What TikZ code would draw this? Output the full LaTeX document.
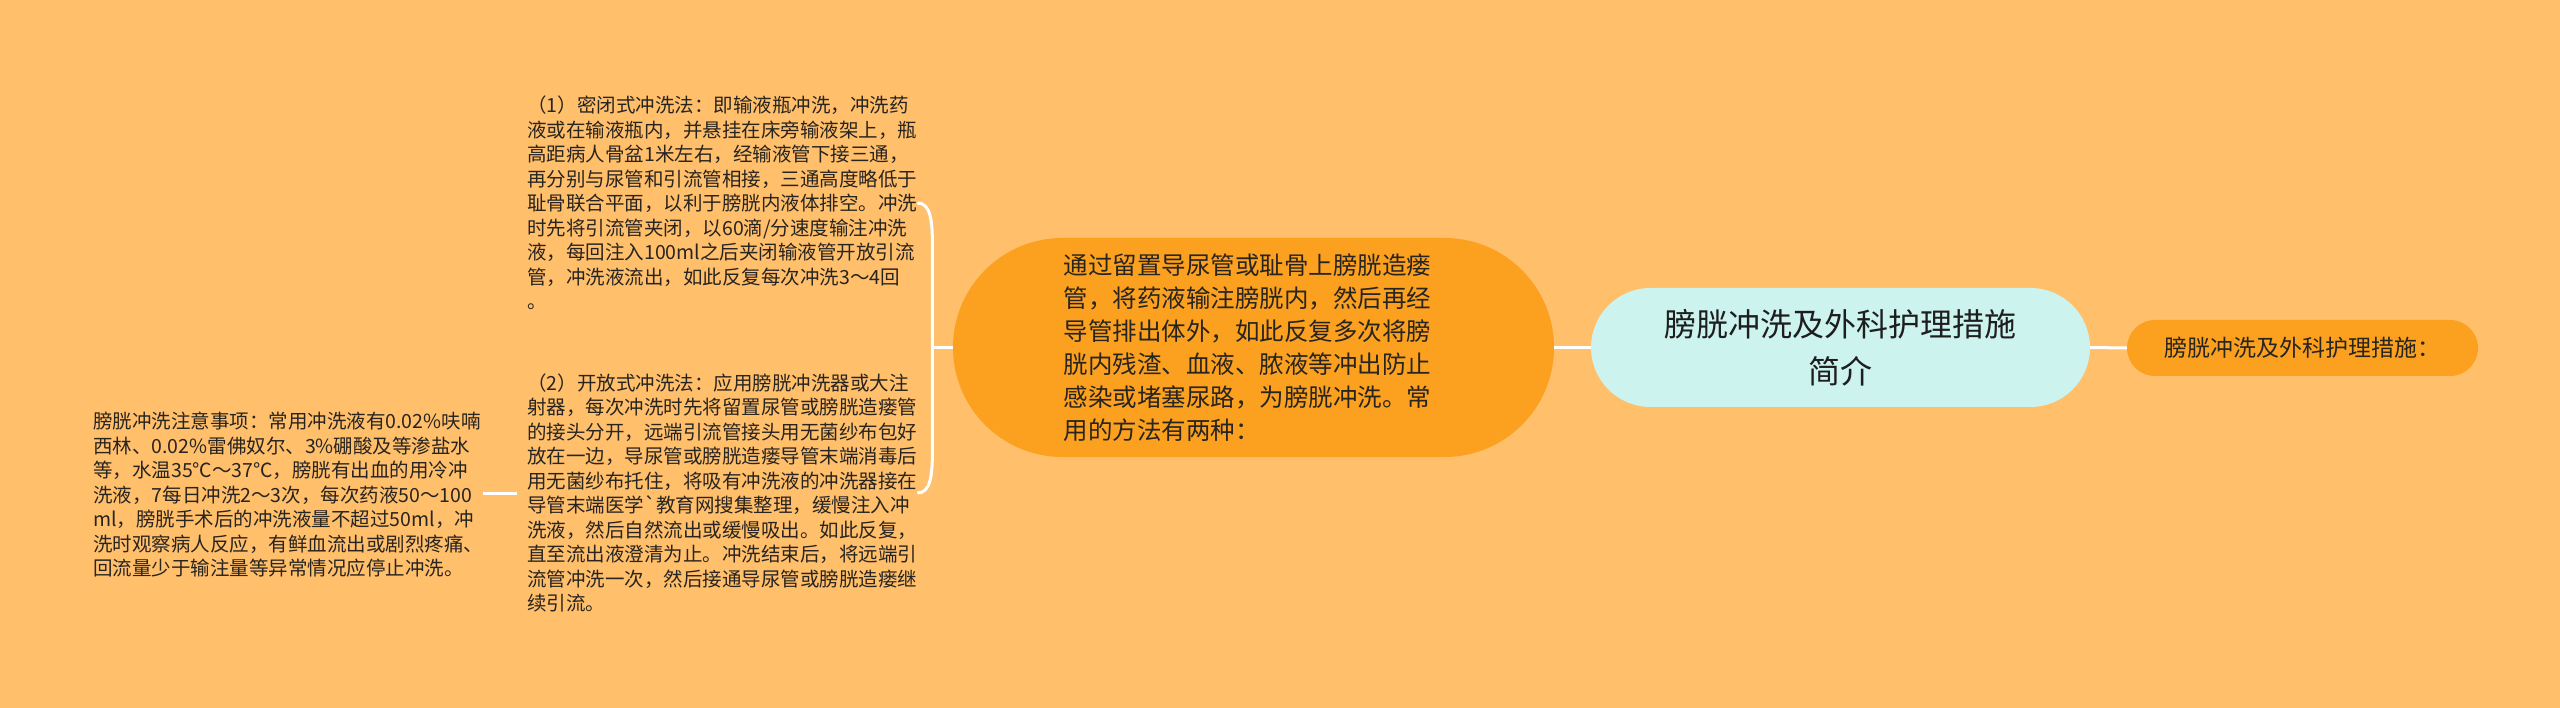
\documentclass[tikz,border=0pt]{standalone}
\usepackage{fontspec}
\newfontfamily\cjk{Noto Sans CJK SC}
\usetikzlibrary{calc}
\definecolor{bgc}{RGB}{255,191,107}
\definecolor{org}{RGB}{251,161,31}
\definecolor{cyn}{RGB}{205,243,239}
\definecolor{txt}{RGB}{40,36,32}
\tikzset{
  conn/.style={draw=white, line width=3pt},
  pill/.style={inner sep=0pt, align=center, text=txt},
  note/.style={inner sep=0pt, align=left, text=txt, font=\cjk\fontsize{19.5pt}{24.5pt}\selectfont},
}
\begin{document}
\begin{tikzpicture}[x=1pt,y=-1pt]
\fill[bgc] (0,0) rectangle (2560,708);
\useasboundingbox (0,0) rectangle (2560,708);

\node[pill, fill=org, minimum width=351pt, minimum height=56pt, rounded corners=28pt,
      font=\cjk\fontsize{23pt}{28pt}\selectfont] (root) at (2302.5,348) {膀胱冲洗及外科护理措施：};

\node[pill, fill=cyn, minimum width=499pt, minimum height=119pt, rounded corners=59.5pt,
      font=\cjk\fontsize{32pt}{47pt}\selectfont, text={rgb,255:red,30;green,30;blue,30}] (topic) at (1840.5,347.5) {膀胱冲洗及外科护理措施\\简介};

\node[fill=org, inner sep=0pt, minimum width=601pt, minimum height=219pt, rounded corners=109.5pt,
      text width=380pt, align=left, text=txt,
      font=\cjk\fontsize{24.5pt}{33pt}\selectfont] (mid) at (1253.5,347.5)
 {通过留置导尿管或耻骨上膀胱造瘘\\管，将药液输注膀胱内，然后再经\\导管排出体外，如此反复多次将膀\\胱内残渣、血液、脓液等冲出防止\\感染或堵塞尿路，为膀胱冲洗。常\\用的方法有两种：};

\node[note, anchor=west] (t1) at (527,203)
 {（1）密闭式冲洗法：即输液瓶冲洗，冲洗药\\液或在输液瓶内，并悬挂在床旁输液架上，瓶\\高距病人骨盆1米左右，经输液管下接三通，\\再分别与尿管和引流管相接，三通高度略低于\\耻骨联合平面，以利于膀胱内液体排空。冲洗\\时先将引流管夹闭，以60滴/分速度输注冲洗\\液，每回注入100ml之后夹闭输液管开放引流\\管，冲洗液流出，如此反复每次冲洗3～4回\\。};

\node[note, anchor=west] (t2) at (527,493)
 {（2）开放式冲洗法：应用膀胱冲洗器或大注\\射器，每次冲洗时先将留置尿管或膀胱造瘘管\\的接头分开，远端引流管接头用无菌纱布包好\\放在一边，导尿管或膀胱造瘘导管末端消毒后\\用无菌纱布托住，将吸有冲洗液的冲洗器接在\\导管末端医学`教育网搜集整理，缓慢注入冲\\洗液，然后自然流出或缓慢吸出。如此反复，\\直至流出液澄清为止。冲洗结束后，将远端引\\流管冲洗一次，然后接通导尿管或膀胱造瘘继\\续引流。};

\node[note, anchor=west] (lt) at (93,495)
 {膀胱冲洗注意事项：常用冲洗液有0.02\%呋喃\\西林、0.02\%雷佛奴尔、3\%硼酸及等渗盐水\\等，水温35℃～37℃，膀胱有出血的用冷冲\\洗液，7每日冲洗2～3次，每次药液50～100\\ml，膀胱手术后的冲洗液量不超过50ml，冲\\洗时观察病人反应，有鲜血流出或剧烈疼痛、\\回流量少于输注量等异常情况应停止冲洗。};

% connectors
\draw[conn] (topic.east) -- (root.west);
\draw[conn] (mid.east) -- (topic.west);
\coordinate (j) at ($(mid.west)+(-20,0)$);
\draw[conn] (mid.west) -- (j);
\draw[conn] (t1.east) .. controls +(13,0) and +(0,-25) .. ($(t1.east)+(15,42)$)
  -- ($(t2.east)+(15,-42)$) .. controls +(0,25) and +(13,0) .. (t2.east);
\draw[conn] (lt.east |- t2.west) -- ([xshift=-10pt]t2.west);
\end{tikzpicture}
\end{document}
